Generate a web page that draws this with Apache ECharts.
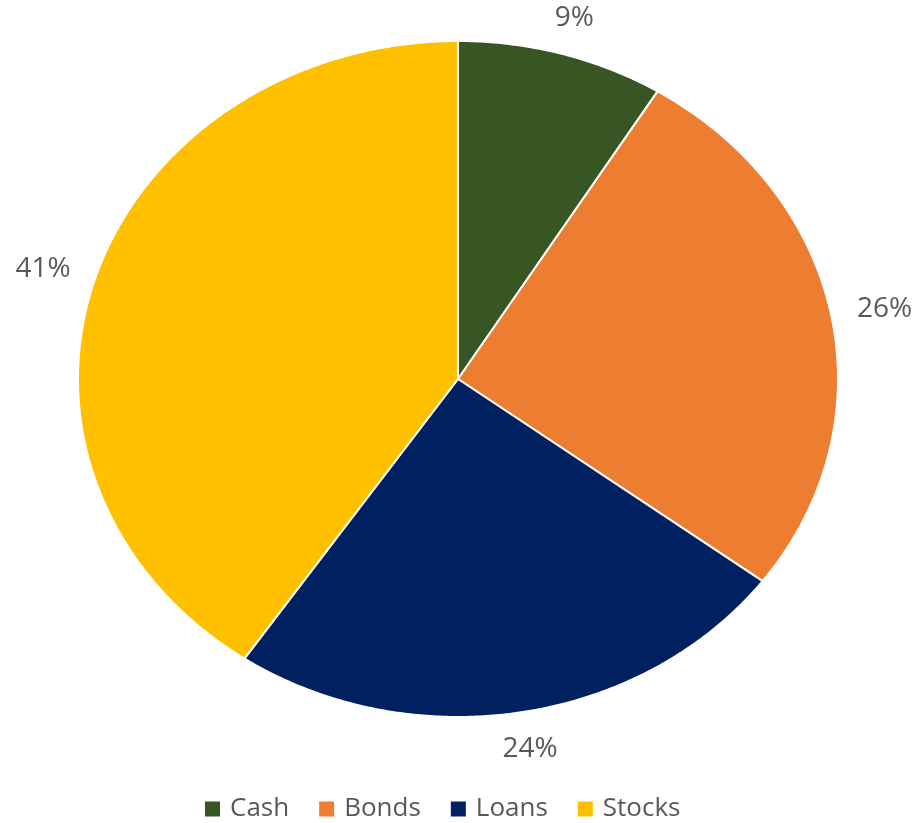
<!DOCTYPE html>
<html>
<head>
<meta charset="utf-8">
<script src="https://cdn.jsdelivr.net/npm/echarts@6/dist/echarts.min.js"></script>
<style>
html,body{margin:0;padding:0;background:#fff;}
#chart{width:922px;height:823px;}
</style>
</head>
<body>
<div id="chart"></div>
<script>
const categories = ['Cash', 'Bonds', 'Loans', 'Stocks'];
const shares = [8.8, 26.4, 24.3, 40.5];
const palette = ['#375623', '#ED7D31', '#002060', '#FFC000'];

const FONT_FAMILY = '"Open Sans", "DejaVu Sans", sans-serif';
const LABEL_SIZE = 28;
const LEGEND_SIZE = 26;
const measureCtx = document.createElement('canvas').getContext('2d');
measureCtx.font = LABEL_SIZE + 'px ' + FONT_FAMILY;

const total = shares.reduce((a, b) => a + b, 0);
let cum = 0;
const sliceData = shares.map(v => {
  const start = cum / total;
  cum += v;
  return [start, cum / total, v];
});

function renderSlice(params, api) {
  const start = api.value(0);
  const end = api.value(1);
  const val = api.value(2);
  const color = api.visual('color');
  const pts = [api.coord([0, 0])];
  const steps = Math.max(2, Math.ceil((end - start) * 720));
  for (let s = 0; s <= steps; s++) {
    const t = (start + (end - start) * s / steps) * 2 * Math.PI;
    pts.push(api.coord([Math.sin(t), Math.cos(t)]));
  }
  const mid = (start + end) / 2 * 2 * Math.PI;
  const sn = Math.sin(mid), cs = Math.cos(mid);
  const k = 1.07;
  const anchor = api.coord([sn * k, cs * k]);
  const label = Math.round(val / total * 100) + '%';
  const w = measureCtx.measureText(label).width;
  const h = LABEL_SIZE;
  const lx = anchor[0] + sn * w / 2;
  const ly = anchor[1] - cs * h / 2;
  return {
    type: 'group',
    children: [
      {
        type: 'polygon',
        shape: { points: pts },
        style: { fill: color, stroke: '#ffffff', lineWidth: 2, lineJoin: 'round' }
      },
      {
        type: 'text',
        style: {
          text: label, x: lx, y: ly,
          fill: '#595959', fontSize: LABEL_SIZE, fontFamily: FONT_FAMILY,
          align: 'center', verticalAlign: 'middle'
        }
      }
    ]
  };
}

const chart = echarts.init(document.getElementById('chart'), null, { renderer: 'canvas' });
chart.setOption({
  animation: false,
  backgroundColor: '#ffffff',
  grid: { left: 78, right: 84, top: 41, bottom: 106 },
  xAxis: { type: 'value', min: -1, max: 1, show: false },
  yAxis: { type: 'value', min: -1, max: 1, show: false },
  legend: {
    left: 200, top: 791,
    icon: 'rect', itemWidth: 15, itemHeight: 15, itemGap: 30,
    textStyle: { color: '#595959', fontSize: LEGEND_SIZE, fontFamily: FONT_FAMILY, padding: [0, 0, 0, 5] },
    data: categories
  },
  series: categories.map((name, i) => ({
    type: 'custom',
    name: name,
    coordinateSystem: 'cartesian2d',
    itemStyle: { color: palette[i] },
    encode: { x: 0, y: 1 },
    data: [sliceData[i]],
    renderItem: renderSlice
  }))
});
</script>
</body>
</html>
